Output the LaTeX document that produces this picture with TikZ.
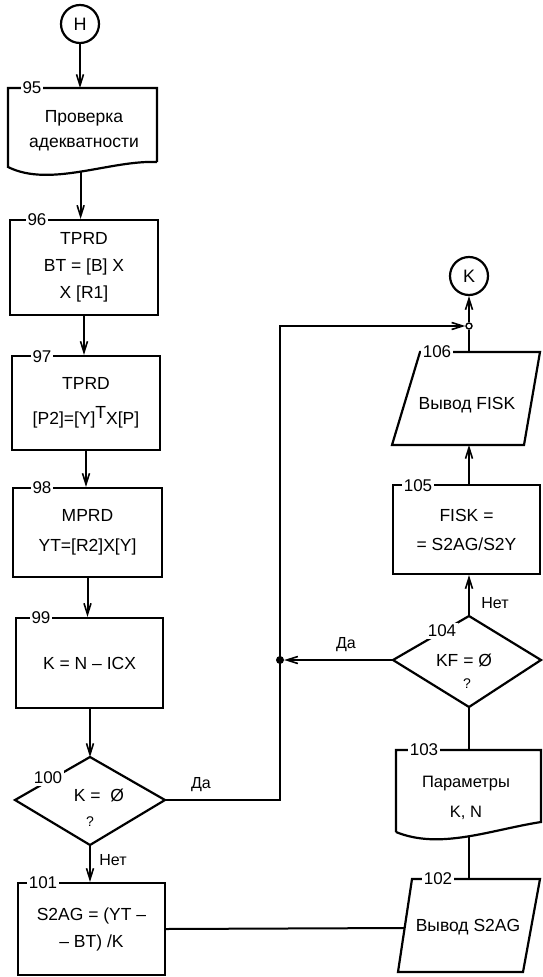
\documentclass[tikz,border=0pt]{standalone}
\usepackage{fontspec}
\setmainfont{Liberation Sans}
\usetikzlibrary{arrows.meta}
\begin{document}
\begin{tikzpicture}[x=1pt,y=-1pt,
  every node/.style={inner sep=0pt},
  shp/.style={draw, line width=2.2pt, line join=miter},
  txt/.style={align=center, font=\fontsize{17.5}{27}\selectfont},
  num/.style={fill=white, inner sep=1.5pt, font=\fontsize{17}{17}\selectfont},
  conn/.style={line width=2pt},
  arr/.style={conn, -{Straight Barb[length=11pt,width=7pt,line width=1.6pt]}},
  lbl/.style={font=\fontsize{16}{16}\selectfont},
  box/.style={shp, rectangle, txt},
  term/.style={shp, circle, minimum size=38pt, font=\fontsize{18}{18}\selectfont},
]
\useasboundingbox (0,0) rectangle (542,977);

% connectors H, K
\node[term] (H) at (80,24) {H};
\node[term] (K) at (469,276) {K};

% 95 document
\coordinate (p95t) at (82,88);
\draw[shp] (157,162) -- (157,88) -- (8,88) -- (8,167)
  .. controls (50,188) and (110,160) .. coordinate[pos=0.5] (w95) (157,162);
\node[txt, font=\fontsize{17.5}{25}\selectfont] (t95) at (84,131) {Проверка\\адекватности};

% rectangles
\node[box, minimum width=148pt, minimum height=95pt] (b96) at (84,267.5) {TPRD\\BT = [B] X\\X [R1]};
\node[box, minimum width=148pt, minimum height=94pt] (b97) at (86,403) {TPRD\\[8pt][P2]=[Y]\raisebox{6pt}{T}X[P]};
\node[box, minimum width=149pt, minimum height=89pt] (b98) at (87.5,532.5) {MPRD\\[3pt]YT=[R2]X[Y]};
\node[box, minimum width=147pt, minimum height=90pt] (b99) at (89.5,663) {K = N – ICX};
\node[box, minimum width=147pt, minimum height=92pt] (b101) at (91.5,929) {S2AG = (YT –\\– BT) /K};
\node[box, minimum width=147pt, minimum height=89pt, font=\fontsize{17.5}{29}\selectfont] (b105) at (466.5,529.5) {FISK =\\= S2AG/S2Y};

% diamond 100
\coordinate (r100t) at (90,757);
\coordinate (r100r) at (165,800);
\coordinate (r100b) at (90,845);
\coordinate (r100l) at (15,800);
\draw[shp] (r100t) -- (r100r) -- (r100b) -- (r100l) -- cycle;
\node[txt] (t100) at (99,795) {K =\ \ Ø};
\node[txt, font=\fontsize{14}{14}\selectfont] (q100) at (90,822) {?};

% diamond 104
\coordinate (r104t) at (469,616);
\coordinate (r104r) at (541,660);
\coordinate (r104b) at (469,707);
\coordinate (r104l) at (393,660);
\draw[shp] (r104t) -- (r104r) -- (r104b) -- (r104l) -- cycle;
\node[txt] (t104) at (464,660) {KF = Ø};
\node[txt, font=\fontsize{14}{14}\selectfont] (q104) at (467,684) {?};

% 106 parallelogram
\coordinate (p106t) at (469,352);
\coordinate (p106b) at (469,445);
\draw[shp] (420,352) -- (540,352) -- (524,445) -- (392,445) -- cycle;
\node[txt] (t106) at (467,405) {Вывод FISK};

% 102 parallelogram
\coordinate (p102t) at (469,879);
\coordinate (p102l) at (404.5,928);
\draw[shp] (412,879) -- (540,879) -- (523,972) -- (398,972) -- cycle;
\node[txt] (t102) at (468,927) {Вывод S2AG};

% 103 document
\coordinate (p103t) at (469,750);
\draw[shp] (396,832) -- (396,750) -- (541,750) -- (541,822)
  .. controls (490,830) and (440,850) .. coordinate[pos=0.5] (w103) (396,832);
\node[txt, font=\fontsize{16.5}{30}\selectfont] (t103) at (466,798) {Параметры\\K, N};

% junctions
\node[circle, draw, line width=1.4pt, fill=white, minimum size=6pt] (j) at (469,326) {};
\node[circle, fill, minimum size=8pt] (d) at (280,660) {};
\coordinate (c1) at (280,800);
\coordinate (c2) at (280,326);

% connectors
\draw[arr] (H.south) -- (H.south |- p95t);
\draw[arr] (w95) -- (w95 |- b96.north);
\draw[arr] (b96.south) -- (b96.south |- b97.north);
\draw[arr] (b97.south) -- (b97.south |- b98.north);
\draw[arr] (b98.south) -- (b98.south |- b99.north);
\draw[arr] (b99.south -| r100t) -- (r100t);
\draw[arr] (r100b) -- (r100b |- b101.north);
\draw[arr] (r100r) -- (c1) -- (c2) -- (j);
\draw[conn] (b101.east) -- (p102l);
\draw[conn] (p102t) -- (p102t |- w103);
\draw[conn] (r104b) -- (p103t);
\draw[arr] (r104t) -- (r104t |- b105.south);
\draw[arr] (r104l) -- (d);
\draw[arr] (r104t |- b105.north) -- (p106b);
\draw[conn] (p106t) -- (j);
\draw[arr] (j) -- (K);

% branch labels
\node[lbl] (da1) at (201,785) {Да};
\node[lbl] (da2) at (346,645) {Да};
\node[lbl] (net1) at (113,860) {Нет};
\node[lbl] (net2) at (495,603) {Нет};

% number labels
\node[num] (n95) at (32,88) {95};
\node[num] (n96) at (37,220) {96};
\node[num] (n97) at (42,357) {97};
\node[num] (n98) at (42,488) {98};
\node[num] (n99) at (41,618) {99};
\node[num] (n100) at (48,778) {100};
\node[num] (n101) at (43,883) {101};
\node[num] (n102) at (438,879) {102};
\node[num] (n103) at (424,750) {103};
\node[num] (n104) at (442,631) {104};
\node[num] (n105) at (418,486) {105};
\node[num] (n106) at (437,352) {106};
\end{tikzpicture}
\end{document}
